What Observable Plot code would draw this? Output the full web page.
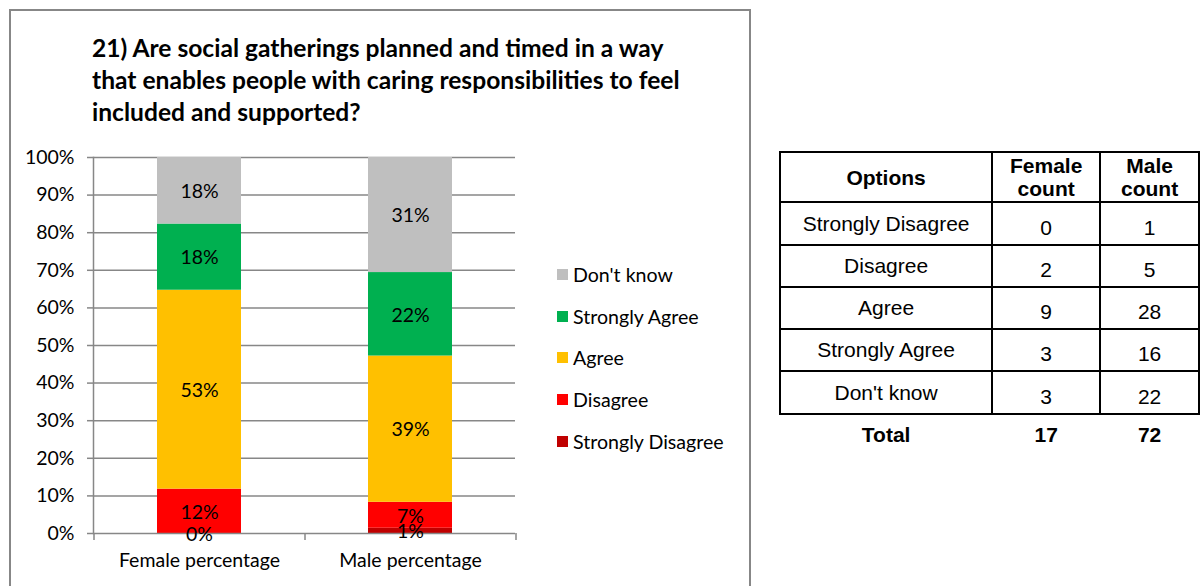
<!DOCTYPE html>
<html>
<head>
<meta charset="utf-8">
<script src="https://cdn.jsdelivr.net/npm/d3@7"></script>
<script src="https://cdn.jsdelivr.net/npm/@observablehq/plot@0.6"></script>
<style>
  html, body { margin: 0; padding: 0; background: #fff; width: 1200px; height: 586px; overflow: hidden; }
  #frame { position: absolute; left: 9px; top: 9px; width: 742px; height: 600px; border: 2px solid #878787; box-sizing: border-box; }
  #title { position: absolute; left: 92px; top: 32px; font-family: Lato, sans-serif; font-weight: bold; font-size: 24.6px; line-height: 32px; color: #000; white-space: nowrap; }
  #chart { position: absolute; left: 0; top: 0; }
  #legend { position: absolute; left: 557px; top: 0; font-family: Lato, sans-serif; font-size: 19.6px; color: #000; }
  .lg { position: absolute; left: 0; white-space: nowrap; height: 22px; line-height: 22px; }
  .lg span.sw { position: absolute; left: 0; top: 5px; width: 11px; height: 11px; }
  .lg span.tx { position: absolute; left: 16px; top: 0; }
  #tbl { position: absolute; left: 779px; top: 151px; border-collapse: collapse; font-family: "Liberation Sans", Arial, sans-serif; font-size: 21px; color: #000; }
  #tbl td, #tbl th { border: 2px solid #000; text-align: center; padding: 0; box-sizing: border-box; }
  #tbl th { font-weight: bold; line-height: 23px; }
  #tbl tr.total td { border: none; font-weight: bold; padding-top: 0; }
  #tbl td.num { padding-top: 8px; }
</style>
</head>
<body>
<div id="frame"></div>
<div id="title"></div>
<div id="chart"></div>
<div id="legend"></div>
<table id="tbl"></table>
<script>
// ---- data ----
const titleLines = [
  "21) Are social gatherings planned and timed in a way",
  "that enables people with caring responsibilities to feel",
  "included and supported?"
];
const categories = ["Female percentage", "Male percentage"];
const options = ["Strongly Disagree", "Disagree", "Agree", "Strongly Agree", "Don't know"];
const femalePct = [0, 11.8, 52.9, 17.6, 17.7];
const malePct = [1.4, 6.9, 38.9, 22.2, 30.6];
const femaleCount = [0, 2, 9, 3, 3];
const maleCount = [1, 5, 28, 16, 22];
const totals = [17, 72];
const colors = ["#C00000", "#FF0000", "#FFC000", "#00B050", "#BFBFBF"];
const yTicks = [0, 10, 20, 30, 40, 50, 60, 70, 80, 90, 100];
const tableHeader = ["Options", "Female<br>count", "Male<br>count"];

// ---- title ----
document.getElementById("title").innerHTML = titleLines.join("<br>");

// ---- chart ----
const rows = [];
options.forEach((o, i) => {
  rows.push({cat: categories[0], option: o, value: femalePct[i]});
  rows.push({cat: categories[1], option: o, value: malePct[i]});
});

const W = 760, H = 586;
const mL = 93, mR = 245, mT = 157, mB = 53;
const plotW = W - mL - mR;
const half = plotW / categories.length / 2;
const grid = "#878787";
const font = "Lato, sans-serif";
const fs = 19.5;

const chart = Plot.plot({
  width: W,
  height: H,
  marginLeft: mL,
  marginRight: mR,
  marginTop: mT,
  marginBottom: mB,
  style: {fontFamily: font, fontSize: fs + "px", color: "#000", background: "transparent", overflow: "visible"},
  x: {domain: categories, paddingInner: 0.602, paddingOuter: 0.301, label: null},
  y: {domain: [0, 100], label: null},
  color: {domain: options, range: colors},
  marks: [
    Plot.ruleY(yTicks.filter(d => d > 0), {stroke: grid, strokeWidth: 1.5}),
    Plot.barY(rows, Plot.stackY({x: "cat", y: "value", fill: "option", order: null})),
    Plot.ruleY([0], {stroke: grid, strokeWidth: 1.5}),
    Plot.frame({anchor: "left", stroke: grid, strokeWidth: 1.5}),
    Plot.axisY({ticks: yTicks, tickSize: 6, tickPadding: 13, tickFormat: d => d + "%", stroke: grid, strokeWidth: 1.5, fontSize: fs, label: null}),
    Plot.axisX({tickSize: 0, tickPadding: 20, fontSize: fs, label: null}),
    // category boundary ticks below the baseline
    Plot.ruleX(categories, {x: d => d, y1: 0, y2: 0, insetBottom: -7, dx: -half, stroke: grid, strokeWidth: 1.5}),
    Plot.ruleX([categories[categories.length - 1]], {x: d => d, y1: 0, y2: 0, insetBottom: -7, dx: half, stroke: grid, strokeWidth: 1.5}),
    Plot.text(rows, Plot.stackY({x: "cat", y: "value", z: "option", order: null,
      text: d => Math.round(d.value) + "%", fill: "#000", fontSize: fs, dy: 1}))
  ]
});
document.getElementById("chart").appendChild(chart);

// ---- legend ----
const legendTop = [264, 306, 347, 389, 431];
const lg = document.getElementById("legend");
const legendOrder = options.slice().reverse();
legendOrder.forEach((o, i) => {
  const d = document.createElement("div");
  d.className = "lg";
  d.style.top = legendTop[i] + "px";
  d.innerHTML = `<span class="sw" style="background:${colors[options.indexOf(o)]}"></span><span class="tx">${o}</span>`;
  lg.appendChild(d);
});

// ---- table ----
const tbl = document.getElementById("tbl");
const colW = [216, 109, 100];
const rowH = [50, 43, 42, 42, 42, 43];
let html = "<tr>" + tableHeader.map((h, i) => `<th style="width:${colW[i]}px;height:${rowH[0]}px">${h}</th>`).join("") + "</tr>";
options.forEach((o, i) => {
  html += `<tr><td style="height:${rowH[i + 1]}px">${o}</td><td class="num">${femaleCount[i]}</td><td class="num">${maleCount[i]}</td></tr>`;
});
html += `<tr class="total"><td style="height:40px">Total</td><td>${totals[0]}</td><td>${totals[1]}</td></tr>`;
tbl.innerHTML = html;
</script>
</body>
</html>
